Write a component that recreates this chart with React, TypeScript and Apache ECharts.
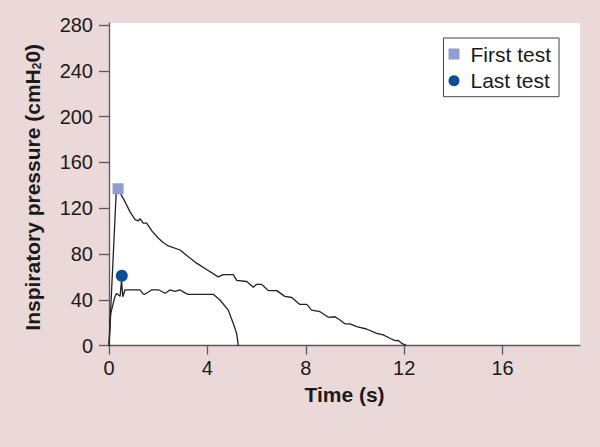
import React, { useEffect, useRef } from "react";
import * as echarts from "echarts";

// First test trace (time s, pressure cmH2O)
const firstTime = [0, 0.3, 0.37, 0.51, 0.62, 0.85, 1.06, 1.2, 1.26, 1.39, 1.53, 1.75, 2.0, 2.2, 2.41, 2.89, 3.2, 3.56, 4.0, 4.44, 4.65, 5.05, 5.19, 5.6, 5.87, 6.0, 6.2, 6.48, 6.82, 7.15, 7.43, 7.76, 8.04, 8.24, 8.58, 8.92, 9.19, 9.39, 9.59, 9.8, 10.07, 10.47, 10.88, 11.15, 11.42, 11.63, 11.75, 11.9, 12.1];
const firstP = [0, 137, 138, 131, 127, 117, 110, 109, 111, 107, 107, 100, 94, 90, 87, 83.5, 78, 72, 66, 60, 62, 62, 57, 56, 51, 53.5, 53.5, 48, 48, 43, 42, 36, 36, 31, 29.6, 24.7, 25.2, 22.4, 19, 19, 16.5, 14.5, 10.7, 9.3, 6.4, 4.3, 4.6, 2, 0];

// Last test trace
const lastTime = [0, 0.07, 0.24, 0.31, 0.45, 0.51, 0.56, 0.65, 1.26, 1.4, 1.46, 1.73, 2.03, 2.28, 2.48, 2.68, 2.89, 3.09, 3.22, 4.24, 4.51, 4.85, 5.05, 5.19, 5.26];
const lastP = [0, 28, 42.7, 45.6, 43, 57, 42.7, 48.6, 48.6, 45, 44.8, 48.6, 48.6, 45.7, 48.6, 47.3, 48.6, 46, 44.8, 44.8, 39.8, 31, 19.5, 10.7, 0];

// Peak markers
const firstPeak = [0.37, 137];
const lastPeak = [0.52, 61];

const xTicks = [0, 4, 8, 12, 16];
const yTicks = [0, 40, 80, 120, 160, 200, 240, 280];

const FONT = "'Liberation Sans', Arial, Helvetica, sans-serif";

export default function App() {
  const ref = useRef<HTMLDivElement>(null);
  useEffect(() => {
    document.body.style.margin = "0";
    const chart = echarts.init(ref.current!, null, { renderer: "svg" });
    const axisColor = "#5a5a5a";
    chart.setOption({
      animation: false,
      backgroundColor: "#ebd9d9",
      textStyle: { fontFamily: FONT },
      grid: {
        left: 109,
        right: 20,
        top: 23,
        bottom: 101.4,
        show: true,
        backgroundColor: "#ffffff",
        borderWidth: 0,
      },
      legend: {
        orient: "vertical",
        right: 41,
        top: 38,
        data: [
          { name: "First test", icon: "rect" },
          { name: "Last test", icon: "circle" },
        ],
        itemWidth: 11,
        itemHeight: 11,
        itemGap: 5.7,
        padding: [5.5, 8, 5.5, 5],
        backgroundColor: "#ffffff",
        borderColor: "#444",
        borderWidth: 1,
        borderRadius: 0,
        textStyle: { fontSize: 21, color: "#1a1a1a", fontFamily: FONT, padding: [0, 0, 0, 6] },
      },
      xAxis: {
        type: "value",
        min: 0,
        max: 19.15,
        name: "Time (s)",
        nameLocation: "middle",
        nameGap: 38,
        nameTextStyle: { fontSize: 21, fontWeight: "bold", color: "#1a1a1a", fontFamily: FONT },
        axisLine: { lineStyle: { color: axisColor, width: 1.3 } },
        axisTick: { show: true, length: 9, customValues: xTicks, lineStyle: { color: axisColor, width: 1.3 } },
        axisLabel: { customValues: xTicks, fontSize: 20, color: "#1a1a1a", margin: 12, fontFamily: FONT },
        splitLine: { show: false },
      },
      yAxis: {
        type: "value",
        min: 0,
        max: 281.75,
        name: "Inspiratory pressure (cmH{sub|2}0)",
        nameLocation: "middle",
        nameGap: 66,
        nameTextStyle: {
          fontSize: 21,
          fontWeight: "bold",
          color: "#1a1a1a",
          fontFamily: FONT,
          padding: [0, 6, 0, 0],
          rich: { sub: { fontSize: 12, fontWeight: "bold", color: "#1a1a1a", verticalAlign: "bottom", padding: [10, 0, 0, 0], fontFamily: FONT } },
        },
        axisLine: { show: true, lineStyle: { color: axisColor, width: 1.3 } },
        axisTick: { show: true, length: 10, customValues: yTicks, lineStyle: { color: axisColor, width: 1.3 } },
        axisLabel: { customValues: yTicks, fontSize: 20, color: "#1a1a1a", margin: 16, fontFamily: FONT },
        splitLine: { show: false },
      },
      series: [
        {
          name: "first-line",
          type: "line",
          data: firstTime.map((t, i) => [t, firstP[i]]),
          showSymbol: false,
          lineStyle: { color: "#222", width: 1.3 },
          itemStyle: { color: "#222" },
          z: 2,
        },
        {
          name: "last-line",
          type: "line",
          data: lastTime.map((t, i) => [t, lastP[i]]),
          showSymbol: false,
          lineStyle: { color: "#222", width: 1.3 },
          itemStyle: { color: "#222" },
          z: 2,
        },
        {
          name: "First test",
          type: "scatter",
          symbol: "rect",
          symbolSize: 11,
          data: [firstPeak],
          itemStyle: { color: "#8f9ed0", opacity: 1 },
          z: 5,
        },
        {
          name: "Last test",
          type: "scatter",
          symbol: "circle",
          symbolSize: 12,
          data: [lastPeak],
          itemStyle: { color: "#0a4d99", opacity: 1 },
          z: 5,
        },
      ],
    });
    return () => chart.dispose();
  }, []);
  return <div ref={ref} style={{ position: "fixed", left: 0, top: 0, width: 600, height: 447 }} />;
}
